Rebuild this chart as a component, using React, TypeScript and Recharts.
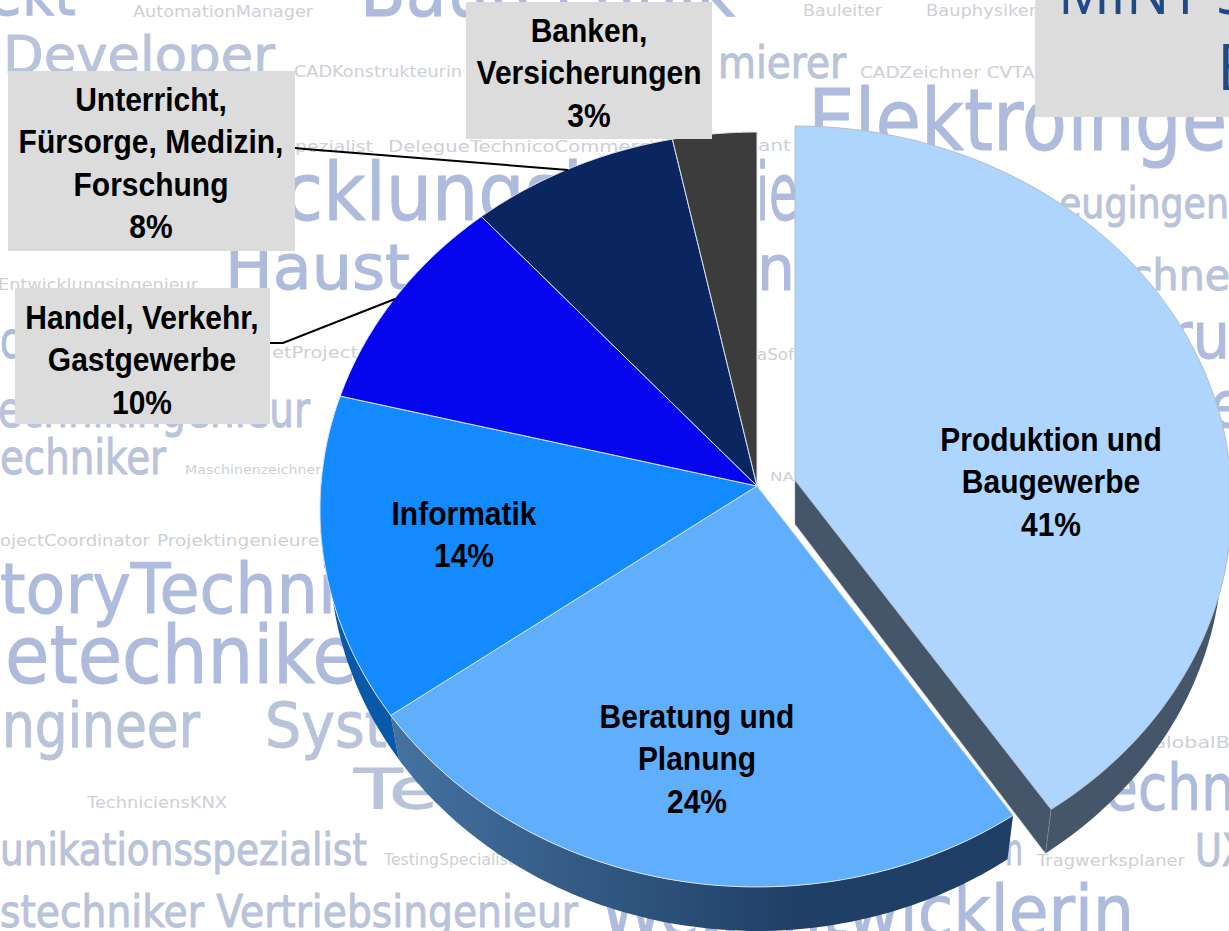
import React from "react";
import { PieChart, Pie } from "recharts";

const sectors = ["Produktion und Baugewerbe", "Beratung und Planung", "Informatik", "Handel, Verkehr, Gastgewerbe", "Unterricht, Fürsorge, Medizin, Forschung", "Banken, Versicherungen"];
const shares = [40.6, 24.4, 13.9, 9.6, 8.2, 3.3];
const topColors = ["#aed5fd", "#60affd", "#138bff", "#0505ee", "#0a2560", "#3c3c3c"];
const sideColors = ["#46566a", "url(#beratungSide)", "#0a58a8", "#0303a0", "#071a44", "#2a2a2a"];
const labelLines = [
  ["Produktion und", "Baugewerbe"],
  ["Beratung und", "Planung"],
  ["Informatik"],
  ["Handel, Verkehr,", "Gastgewerbe"],
  ["Unterricht,", "Fürsorge, Medizin,", "Forschung"],
  ["Banken,", "Versicherungen"],
];

const W = 1229, H = 931;
const CX = 757, CY = 486, R = 376;
const ASPECT = 1.16, PERSP = 0.0622, DEPTH = 44, BOTTOM_SCALE = 0.978;
const EXPLODED = 0, OX = 38, OY = -6;

// label layout: centre x, first baseline, optional box [x, y, w, h], optional leader
const labelLayout: { cx: number; y: number; box?: number[]; line?: number[][] }[] = [
  { cx: 1051, y: 451 },
  { cx: 697, y: 728 },
  { cx: 464, y: 525 },
  { cx: 142, y: 329, box: [15, 288, 255, 136], line: [[270, 343], [283, 343], [395, 299]] },
  { cx: 151, y: 111, box: [8, 71, 287, 180], line: [[295, 148], [305, 149], [568, 170]] },
  { cx: 589, y: 42, box: [466, 2, 246, 137] },
];

type Word = [string, number, number, number, number, string];
const BIG = "#aebbdc", MID = "#b9c3d9", SMALL = "#cdd0d6";
// text, x, baseline, font size, width, colour
const words: Word[] = [
  ["ekt", -12, 15, 66, 88, BIG],
  ["AutomationManager", 133, 17, 15, 180, SMALL],
  ["Bautechnik", 360, 16, 76, 375, BIG],
  ["Bauleiter", 803, 16, 15, 79, SMALL],
  ["Bauphysiker", 926, 16, 15, 110, SMALL],
  ["Developer", 3, 73, 52, 272, MID],
  ["CADKonstrukteurin", 294, 77, 15, 168, SMALL],
  ["mierer", 718, 78, 44, 128, MID],
  ["CADZeichner CVTAI", 860, 78, 15, 180, SMALL],
  ["Elektroingenieur", 808, 150, 86, 610, BIG],
  ["pezialist", 295, 152, 15, 78, SMALL],
  ["DelegueTechnicoCommercial", 388, 152, 15, 284, SMALL],
  ["ant", 758, 151, 15, 33, SMALL],
  ["cklungsi", 283, 220, 80, 300, BIG],
  ["ie", 756, 220, 80, 42, BIG],
  ["eugingen", 1059, 218, 42, 170, MID],
  ["Haust", 225, 289, 62, 185, BIG],
  ["n", 757, 290, 62, 38, BIG],
  ["Entwicklungsingenieur", -2, 290, 15, 200, SMALL],
  ["chne", 1130, 290, 42, 100, MID],
  ["c", 0, 358, 52, 20, BIG],
  ["etProject", 272, 358, 15, 86, SMALL],
  ["aSof", 757, 360, 15, 37, SMALL],
  ["ru", 1168, 358, 64, 62, BIG],
  ["echnikingenieur", -2, 427, 50, 312, MID],
  ["e", 1210, 427, 64, 34, BIG],
  ["echniker", 0, 474, 48, 166, MID],
  ["Maschinenzeichner", 185, 474, 13, 136, SMALL],
  ["NA", 770, 481, 13, 24, SMALL],
  ["ojectCoordinator", 0, 546, 15, 150, SMALL],
  ["Projektingenieure", 157, 546, 15, 162, SMALL],
  ["toryTechni", 0, 613, 69, 336, BIG],
  ["etechnike", 5, 683, 80, 352, BIG],
  ["GlobalB", 1150, 748, 15, 80, SMALL],
  ["ngineer", 2, 747, 62, 198, MID],
  ["Syst", 265, 747, 62, 122, MID],
  ["Te", 354, 808, 56, 84, MID],
  ["TechniciensKNX", 87, 808, 15, 140, SMALL],
  ["echn", 1105, 810, 64, 130, BIG],
  ["unikationsspezialist", 0, 865, 44, 367, MID],
  ["TestingSpecialist", 384, 865, 15, 130, SMALL],
  ["n", 1005, 865, 44, 18, MID],
  ["Tragwerksplaner", 1037, 866, 15, 148, SMALL],
  ["UX", 1195, 866, 44, 52, MID],
  ["stechniker Vertriebsingenieur", 0, 927, 44, 578, MID],
  ["Webentwicklerin", 600, 936, 72, 534, BIG],
];

const chartData = sectors.map((name, i) => ({ name, value: shares[i] }));

// Projects a disc point (theta clockwise from the top) to the screen.
function project(theta: number, cx: number, cy: number, r: number) {
  const t = (theta * Math.PI) / 180;
  const d = 1 + PERSP * Math.cos(t);
  return { x: cx + (r * ASPECT * Math.sin(t)) / d, y: cy - (r * Math.cos(t)) / d };
}

function thetas(from: number, to: number) {
  const out: number[] = [];
  for (let t = from; t < to; t += 1) out.push(t);
  out.push(to);
  return out;
}

function offset(i: number) {
  return i === EXPLODED ? { ox: OX, oy: OY } : { ox: 0, oy: 0 };
}

function TopFace(p: any) {
  const { ox, oy } = offset(p.index);
  const cx = p.cx + ox, cy = p.cy + oy;
  const from = 90 - p.startAngle, to = 90 - p.endAngle;
  const pts = thetas(from, to).map((t) => project(t, cx, cy, p.outerRadius));
  const d = `M${cx},${cy} ` + pts.map((q) => `L${q.x.toFixed(1)},${q.y.toFixed(1)}`).join(" ") + " Z";
  return <path d={d} fill={topColors[p.index]} stroke={p.index === EXPLODED ? "#b4bfc9" : "#d5e2ee"} strokeWidth={1} strokeLinejoin="round" />;
}

function SideFace(p: any) {
  const { ox, oy } = offset(p.index);
  const cx = p.cx + ox, cy = p.cy + oy;
  const from = 90 - p.startAngle, to = 90 - p.endAngle;
  const low = (q: { x: number; y: number }) => ({ x: cx + (q.x - cx) * BOTTOM_SCALE, y: q.y + DEPTH });
  const lo = Math.max(from, 90), hi = Math.min(to, 270);
  const parts: React.ReactNode[] = [];
  const fmt = (a: { x: number; y: number }[]) => "M" + a.map((q) => `${q.x.toFixed(1)},${q.y.toFixed(1)}`).join(" L") + " Z";
  if (lo < hi) {
    const arc = thetas(lo, hi).map((t) => project(t, cx, cy, p.outerRadius));
    parts.push(<path key="arc" d={fmt([...arc, ...arc.slice().reverse().map(low)])} fill={sideColors[p.index]} />);
  }
  if (p.index === EXPLODED) {
    const apex = { x: cx, y: cy };
    const end = project(to, cx, cy, p.outerRadius);
    parts.push(<path key="cut" d={fmt([apex, end, low(end), low(apex)])} fill={sideColors[p.index]} stroke="#8a97a5" strokeWidth={0.5} />);
  }
  return (
    <g>
      <defs>
        <linearGradient id="beratungSide" gradientUnits="userSpaceOnUse" x1="400" y1="0" x2="800" y2="0">
          <stop offset="0" stopColor="#44719f" />
          <stop offset="1" stopColor="#1f3f66" />
        </linearGradient>
      </defs>
      {parts}
    </g>
  );
}

function SliceLabel(p: any) {
  const i = p.index;
  const lay = labelLayout[i];
  const lines = [...labelLines[i], `${Math.round(shares[i])}%`];
  return (
    <g>
      {lay.line && <polyline points={lay.line.map((q) => q.join(",")).join(" ")} fill="none" stroke="#000" strokeWidth={2} />}
      {lay.box && <rect x={lay.box[0]} y={lay.box[1]} width={lay.box[2]} height={lay.box[3]} fill="#dcdcdc" />}
      {lines.map((t, k) => (
        <text key={k} transform={`translate(${lay.cx},${lay.y + k * 42.3}) scale(0.882,1)`} textAnchor="middle" fontFamily="'Liberation Sans', Arial, sans-serif" fontWeight={700} fontSize={34} fill="#000">
          {t}
        </text>
      ))}
    </g>
  );
}

export default function App() {
  return (
    <div style={{ position: "fixed", left: 0, top: 0, width: W, height: H, overflow: "hidden", background: "#fff" }}>
      <svg width={W} height={H} style={{ position: "absolute", left: 0, top: 0 }}>
        {words.map(([t, x, y, s, w, c], i) => (
          <text key={i} x={x} y={y} fontSize={s} fill={c} stroke={s >= 40 ? c : "none"} strokeWidth={s >= 40 ? 1 : 0} fontFamily="'DejaVu Sans', sans-serif" textLength={w} lengthAdjust="spacingAndGlyphs">
            {t}
          </text>
        ))}
        <rect x={1035} y={0} width={194} height={117} fill="#dcdcdc" />
        <text x={1058} y={14} fontSize={62} fill="#1f4a84" fontFamily="'Open Sans', sans-serif" textLength={190} lengthAdjust="spacingAndGlyphs">MINT S</text>
        <text x={1217} y={90} fontSize={64} fill="#1f4a84" fontFamily="'Open Sans', sans-serif">B</text>
      </svg>
      <div style={{ position: "absolute", left: 0, top: 0 }}>
        <PieChart width={W} height={H} margin={{ top: 0, right: 0, bottom: 0, left: 0 }}>
          <Pie data={chartData} dataKey="value" nameKey="name" cx={CX} cy={CY} outerRadius={R} startAngle={90} endAngle={-270} isAnimationActive={false} shape={SideFace} legendType="none" />
          <Pie data={chartData} dataKey="value" nameKey="name" cx={CX} cy={CY} outerRadius={R} startAngle={90} endAngle={-270} isAnimationActive={false} shape={TopFace} label={SliceLabel} labelLine={false} legendType="none" />
        </PieChart>
      </div>
    </div>
  );
}
